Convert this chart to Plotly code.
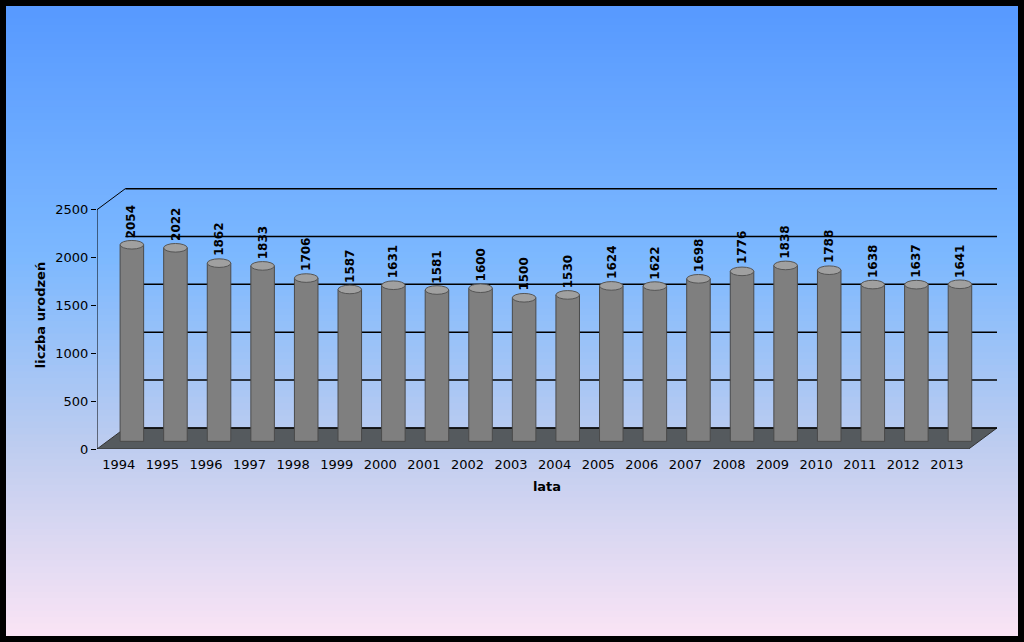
import plotly.graph_objects as go

lata = [1994, 1995, 1996, 1997, 1998, 1999, 2000, 2001, 2002, 2003,
        2004, 2005, 2006, 2007, 2008, 2009, 2010, 2011, 2012, 2013]
urodzenia = [2054, 2022, 1862, 1833, 1706, 1587, 1631, 1581, 1600, 1500,
             1530, 1624, 1622, 1698, 1776, 1838, 1788, 1638, 1637, 1641]
y_ticks = [0, 500, 1000, 1500, 2000, 2500]

depth_x = 0.65   # 3D depth offset in category units
depth_y = 220    # 3D depth offset in value units
base = 80
n = len(lata)
xs = [i + 0.5 + 0.3 for i in range(n)]

W, H = 1024, 642
ml, mr, mt, mb = 97, 27, 181, 193
pw, ph = W - ml - mr, H - mt - mb

def px(x):
    return (x - ml) / pw

def py(y):
    return (H - mb - y) / ph

# gradient stops (fraction of height, rgb)
stops = [(0.0, (88, 154, 255)), (0.4, (125, 185, 255)), (0.7, (190, 205, 240)), (1.0, (250, 228, 245))]

def grad(t):
    for (t0, c0), (t1, c1) in zip(stops, stops[1:]):
        if t <= t1:
            f = (t - t0) / (t1 - t0)
            return tuple(int(c0[j] + (c1[j] - c0[j]) * f) for j in range(3))
    return stops[-1][1]

shapes = []
steps = 100
y_top, y_bot = 6, H - 6
for k in range(steps):
    c = grad(k / (steps - 1))
    a = y_top + (y_bot - y_top) * k / steps
    b = min(y_bot, y_top + (y_bot - y_top) * (k + 1) / steps + 2)
    shapes.append(dict(type="rect", xref="paper", yref="paper", layer="below",
                       x0=px(6), x1=px(W - 6), y0=py(b), y1=py(a), line_width=0,
                       fillcolor="rgb(%d,%d,%d)" % c))

# floor
shapes.append(dict(type="path", layer="below", line=dict(color="#333", width=1),
                   fillcolor="#555a5e",
                   path=f"M 0 0 L {n} 0 L {n+depth_x} {depth_y} L {depth_x} {depth_y} Z"))
# back gridlines
for v in y_ticks:
    shapes.append(dict(type="line", layer="below", x0=depth_x, x1=n + depth_x,
                       y0=v + depth_y, y1=v + depth_y, line=dict(color="black", width=1.5)))
shapes.append(dict(type="line", x0=0, x1=depth_x, y0=2500, y1=2500 + depth_y,
                   line=dict(color="black", width=1)))
shapes.append(dict(type="line", x0=0, x1=0, y0=0, y1=2500, line=dict(color="black", width=1)))

# cylinder tops
for x, v in zip(xs, urodzenia):
    shapes.append(dict(type="circle", x0=x - 0.27, x1=x + 0.27,
                       y0=v + base - 45, y1=v + base + 45,
                       fillcolor="#a0a0a0", line=dict(color="#555", width=1)))

fig = go.Figure()
fig.add_trace(go.Bar(x=xs, y=urodzenia, base=base, width=0.54,
                     marker=dict(color="#7f7f7f", line=dict(color="#4a4a4a", width=1)),
                     hoverinfo="skip"))

annotations = []
for x, v in zip(xs, urodzenia):
    annotations.append(dict(x=x, y=v + base + 50, text=f"<b>{v}</b>", showarrow=False,
                            textangle=-90, yanchor="bottom", xanchor="center",
                            font=dict(size=12, color="black", family="DejaVu Sans")))

fig.update_layout(
    width=W, height=H,
    margin=dict(l=ml, r=mr, t=mt, b=mb),
    paper_bgcolor="black",
    plot_bgcolor="rgba(0,0,0,0)",
    showlegend=False,
    shapes=shapes,
    annotations=annotations,
    font=dict(family="DejaVu Sans", color="black"),
    xaxis=dict(range=[0, n + depth_x], tickvals=[i + 0.5 for i in range(n)],
               ticktext=[str(y) for y in lata], showgrid=False, zeroline=False,
               tickfont=dict(size=13), ticks="", ticklabelstandoff=6,
               title=dict(text="<b>lata</b>", font=dict(size=13), standoff=10)),
    yaxis=dict(range=[0, 2800], tickvals=y_ticks, showgrid=False, zeroline=False,
               tickfont=dict(size=13), ticks="outside", ticklen=5, tickcolor="black",
               title=dict(text="<b>liczba urodzeń</b>", font=dict(size=13), standoff=6)),
)

fig.write_html("out.html", config={"displayModeBar": False},
               post_script="document.body.style.margin='0';document.body.style.overflow='hidden';")
